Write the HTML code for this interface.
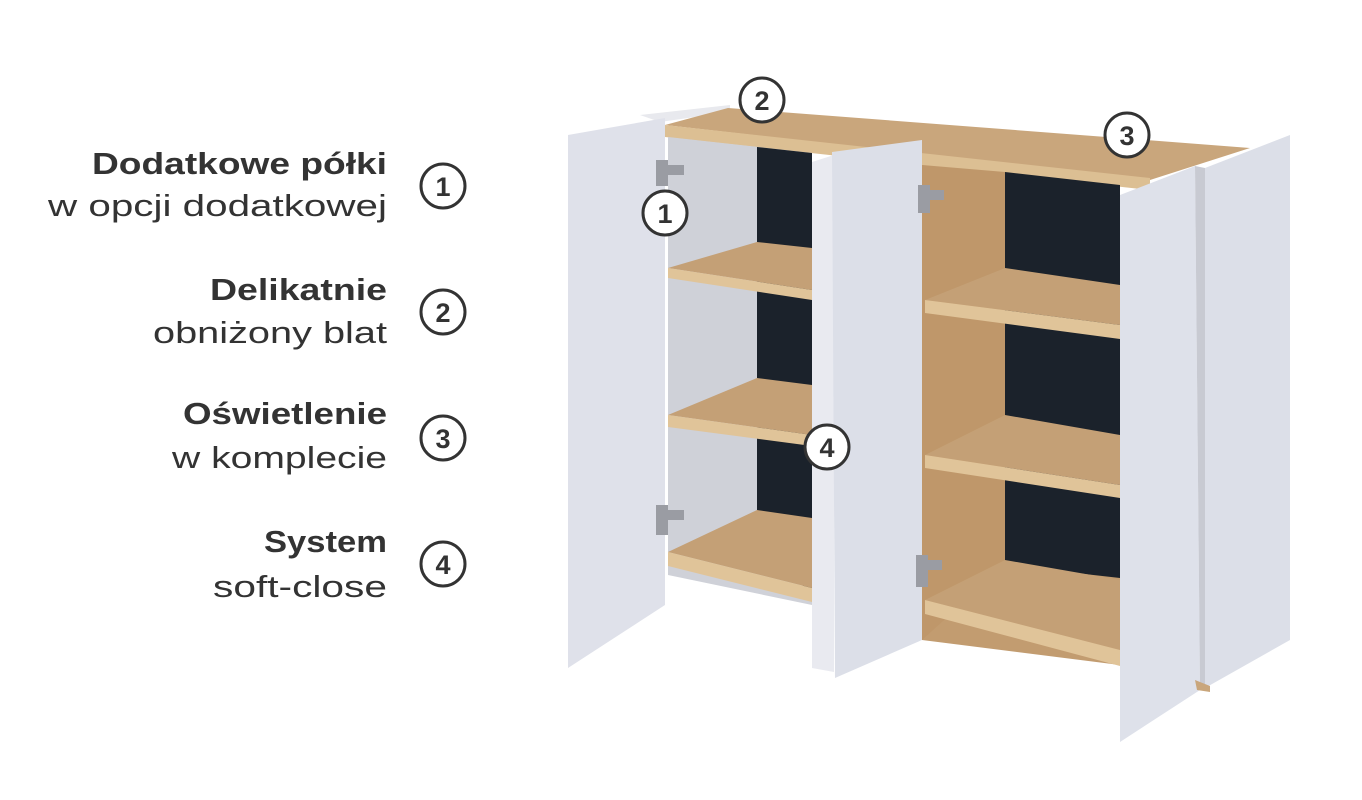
<!DOCTYPE html>
<html><head><meta charset="utf-8"><style>
html,body{margin:0;padding:0;background:#fff;}
svg{display:block;}
text{font-family:"Liberation Sans",sans-serif;fill:#333;}
</style></head><body>
<svg width="1362" height="800" viewBox="0 0 1362 800" xmlns="http://www.w3.org/2000/svg">
<rect width="1362" height="800" fill="#fff"/>
<!-- labels -->
<g font-size="31" text-anchor="end">
<text x="387" y="174" font-weight="bold" textLength="295" lengthAdjust="spacingAndGlyphs">Dodatkowe półki</text>
<text x="387" y="216" textLength="339" lengthAdjust="spacingAndGlyphs">w opcji dodatkowej</text>
<text x="387" y="300" font-weight="bold" textLength="177" lengthAdjust="spacingAndGlyphs">Delikatnie</text>
<text x="387" y="343" textLength="234" lengthAdjust="spacingAndGlyphs">obniżony blat</text>
<text x="387" y="424" font-weight="bold" textLength="204" lengthAdjust="spacingAndGlyphs">Oświetlenie</text>
<text x="387" y="468" textLength="215" lengthAdjust="spacingAndGlyphs">w komplecie</text>
<text x="387" y="552" font-weight="bold" textLength="123" lengthAdjust="spacingAndGlyphs">System</text>
<text x="387" y="597" textLength="174" lengthAdjust="spacingAndGlyphs">soft-close</text>
</g>
<g fill="#fff" stroke="#333" stroke-width="3">
<circle cx="443" cy="186" r="22"/><circle cx="443" cy="312" r="22"/>
<circle cx="443" cy="438" r="22"/><circle cx="443" cy="564" r="22"/>
</g>
<g font-size="27" font-weight="bold" text-anchor="middle">
<text x="443" y="196">1</text><text x="443" y="322">2</text>
<text x="443" y="448">3</text><text x="443" y="574">4</text>
</g>

<!-- cabinet -->
<polygon points="640,115 730,105 730,112 660,122" fill="#e8e9ee"/>
<polygon points="665,125 728,108 1250,148 1150,180" fill="#c9a67c"/>
<polygon points="665,125 1150,178 1150,190 665,137" fill="#dcbf93"/>
<polygon points="668,137 812,153 812,605 668,575" fill="#cfd1d8"/>
<polygon points="757,147 812,153 812,600 757,515" fill="#1b222b"/>
<polygon points="668,268 757,242 812,248 812,290" fill="#c4a076"/>
<polygon points="668,268 812,290 812,300 668,278" fill="#e0c499"/>
<polygon points="668,415 757,378 812,385 812,435" fill="#c4a076"/>
<polygon points="668,415 812,435 812,446 668,427" fill="#e0c499"/>
<polygon points="668,552 757,510 812,518 812,588" fill="#c4a076"/>
<polygon points="668,552 812,588 812,602 668,566" fill="#e0c499"/>
<polygon points="922,165 1120,188 1120,665 922,640" fill="#c29c70"/>
<polygon points="1005,172 1120,185 1120,578 1005,565" fill="#1b222b"/>
<polygon points="922,165 1005,172 1005,565 922,640" fill="#bf976a"/>
<polygon points="925,300 1005,268 1120,285 1120,325" fill="#c4a076"/>
<polygon points="925,300 1120,325 1120,339 925,313" fill="#e0c499"/>
<polygon points="925,455 1005,415 1120,435 1120,485" fill="#c4a076"/>
<polygon points="925,455 1120,485 1120,498 925,468" fill="#e0c499"/>
<polygon points="925,600 1005,560 1120,580 1120,650" fill="#c4a076"/>
<polygon points="925,600 1120,650 1120,666 925,614" fill="#e0c499"/>
<polygon points="568,135 665,118 665,605 568,668" fill="#dfe1ea"/>
<polygon points="812,162 834,155 834,672 812,668" fill="#e9eaf0"/>
<polygon points="832,152 922,140 922,640 835,678" fill="#dcdfe8"/>
<polygon points="1120,195 1195,166 1200,690 1120,742" fill="#dee1ea"/>
<polygon points="1195,166 1205,168 1205,688 1200,690" fill="#c8cad2"/>
<polygon points="1205,168 1290,135 1290,640 1205,688" fill="#dcdfe8"/>
<polygon points="1195,680 1210,686 1210,692 1197,690" fill="#c9a67c"/>
<g fill="#9a9ca3">
<rect x="656" y="160" width="12" height="26"/><rect x="664" y="165" width="20" height="10"/>
<rect x="656" y="505" width="12" height="30"/><rect x="664" y="510" width="20" height="10"/>
<rect x="918" y="185" width="12" height="28"/><rect x="926" y="190" width="18" height="10"/>
<rect x="916" y="555" width="12" height="32"/><rect x="924" y="560" width="18" height="10"/>
</g>
<g fill="#fff" stroke="#333" stroke-width="3">
<circle cx="665" cy="213" r="22"/><circle cx="762" cy="100" r="22"/>
<circle cx="1127" cy="135" r="22"/><circle cx="827" cy="447" r="22"/>
</g>
<g font-size="27" font-weight="bold" text-anchor="middle">
<text x="665" y="223">1</text><text x="762" y="110">2</text>
<text x="1127" y="145">3</text><text x="827" y="457">4</text>
</g>
</svg>
</body></html>
